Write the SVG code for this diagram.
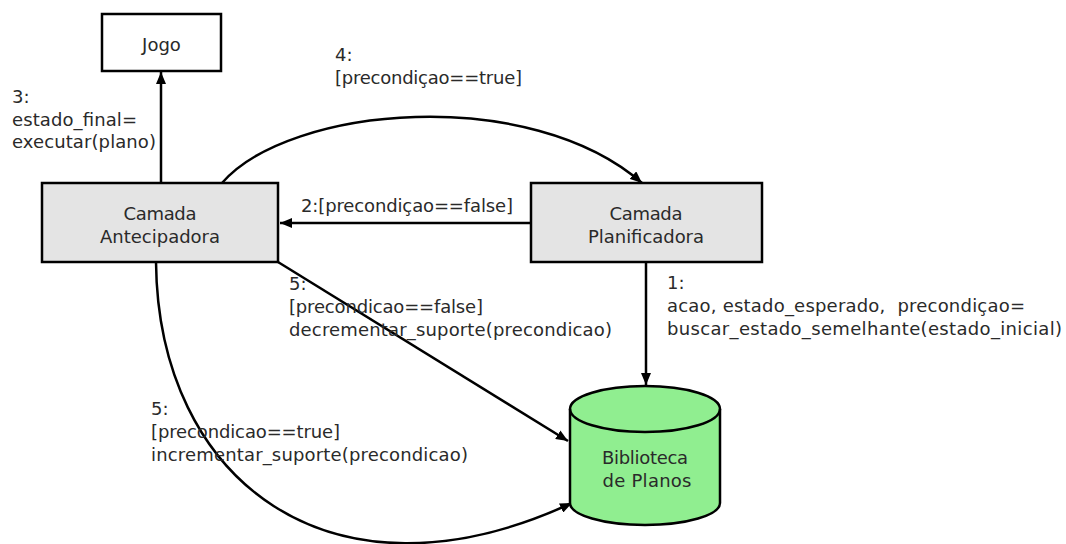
<svg xmlns="http://www.w3.org/2000/svg" width="1066" height="544" viewBox="0 0 1066 544">
<style>
text{font-family:"DejaVu Sans","Liberation Sans",sans-serif;font-size:18px;fill:#2a2a2a}
.c{text-anchor:middle}
.box{fill:#e4e4e4;stroke:#000;stroke-width:2.5}
.wbox{fill:#fff;stroke:#000;stroke-width:2.5}
.cyl{fill:#90ee90;stroke:#000;stroke-width:2.5;stroke-linejoin:round}
.ln{fill:none;stroke:#000;stroke-width:2.5;marker-end:url(#ah)}
</style>
<defs>
<marker id="ah" viewBox="0 0 12 10" refX="12" refY="5" markerWidth="12" markerHeight="10" markerUnits="userSpaceOnUse" orient="auto">
<path d="M0,0 L12,5 L0,10 Z" fill="#000"/>
</marker>
</defs>
<rect width="1066" height="544" fill="#fff"/>
<g id="connectors">
<path class="ln" d="M161,183 L161,72"/>
<path class="ln" d="M531,223 L280,223"/>
<path class="ln" d="M222,183 C290,105 530,85 642,183"/>
<path class="ln" d="M646,262 L646,385"/>
<path class="ln" d="M278,262 L568,441"/>
<path class="ln" d="M156,262 C158,480 330,615 572,503"/>
</g>
<g id="labels">
<text x="12" y="103">3:</text>
<text x="12" y="125.5" textLength="125">estado_final=</text>
<text x="12" y="148" textLength="144">executar(plano)</text>
<text x="335" y="61">4:</text>
<text x="335" y="83.5" textLength="187">[precondiçao==true]</text>
<text x="301" y="212" textLength="212">2:[precondiçao==false]</text>
<text x="667" y="289">1:</text>
<text x="667" y="312" xml:space="preserve" textLength="358">acao, estado_esperado,  precondiçao=</text>
<text x="667" y="335" textLength="395">buscar_estado_semelhante(estado_inicial)</text>
<text x="289" y="290">5:</text>
<text x="289" y="313" textLength="194">[precondicao==false]</text>
<text x="289" y="336" textLength="323">decrementar_suporte(precondicao)</text>
<text x="151" y="415">5:</text>
<text x="151" y="438" textLength="189">[precondicao==true]</text>
<text x="151" y="461" textLength="317">incrementar_suporte(precondicao)</text>
</g>
<g id="jogo">
<rect class="wbox" x="102" y="14" width="119" height="57"/>
<text class="c" x="161.5" y="51">Jogo</text>
</g>
<g id="antecipadora">
<rect class="box" x="42" y="183" width="236" height="79"/>
<text class="c" x="160" y="220" textLength="73">Camada</text>
<text class="c" x="160" y="243" textLength="120">Antecipadora</text>
</g>
<g id="planificadora">
<rect class="box" x="531" y="183" width="231" height="79"/>
<text class="c" x="646" y="220" textLength="73">Camada</text>
<text class="c" x="646" y="243" textLength="116">Planificadora</text>
</g>
<g id="biblioteca">
<path class="cyl" d="M570,409 A75,23 0 0 1 720,409 L720,503 A75,22 0 0 1 570,503 Z"/>
<path class="cyl" style="fill:none" d="M570,409 A75,23 0 0 0 720,409"/>
<text class="c" x="645" y="464" textLength="86">Biblioteca</text>
<text class="c" x="647" y="487" textLength="89">de Planos</text>
</g>
</svg>
